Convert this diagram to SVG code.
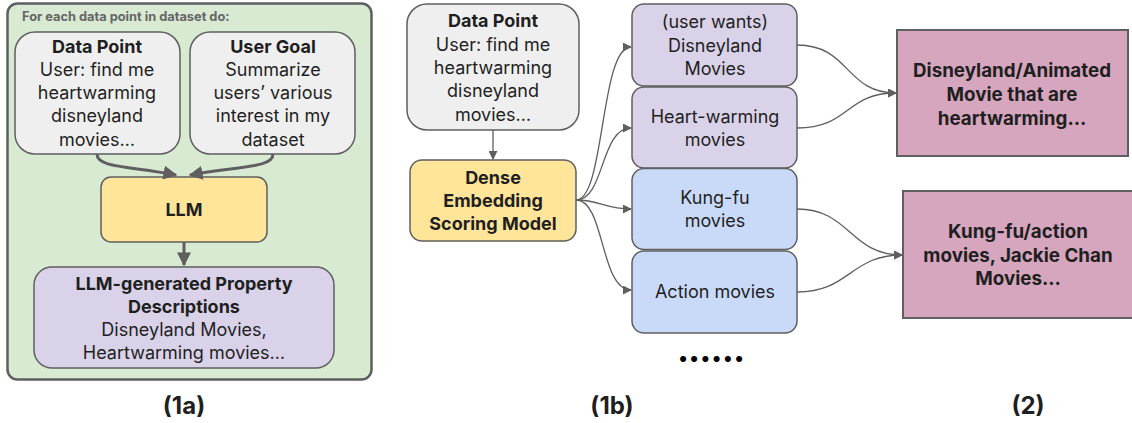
<svg xmlns="http://www.w3.org/2000/svg" width="1132" height="423" viewBox="0 0 1132 423">
<defs>
<style>
text{font-family:Inter,"Noto Sans","Liberation Sans",sans-serif;fill:#1f1f1f;text-anchor:middle}
.b{font-weight:700}
.t{font-size:18px}
.p{font-size:18.8px}
.lab{font-size:24px;font-weight:700}
.node{stroke:#5f5f5f;stroke-width:1.5}
.thick{fill:none;stroke:#5f5f5f;stroke-width:3}
.thin{fill:none;stroke:#5f5f5f;stroke-width:1.3}
</style>
<marker id="ah" viewBox="0 0 10 10" refX="9" refY="5" markerWidth="9" markerHeight="9" markerUnits="userSpaceOnUse" orient="auto"><path d="M0,0 L10,5 L0,10 z" fill="#5f5f5f"/></marker>
<marker id="ahb" viewBox="0 0 10 10" refX="9" refY="5" markerWidth="14" markerHeight="14" markerUnits="userSpaceOnUse" orient="auto"><path d="M0,0 L10,5 L0,10 z" fill="#5f5f5f"/></marker>
</defs>
<rect width="1132" height="423" fill="#ffffff"/>
<g id="frame1a">
<rect x="7.5" y="3.5" width="364" height="376" rx="10" fill="#d9ead3" stroke="#5f5f5f" stroke-width="2.5"/>
<text x="22" y="21" style="font-size:12.8px;font-weight:700;fill:#666;text-anchor:start">For each data point in dataset do:</text>
</g>
<g id="dp1">
<rect class="node" x="15" y="32" width="165" height="122" rx="20" fill="#efefef"/>
<text class="t b" x="97" y="53">Data Point</text>
<text class="t" x="97" y="76">User: find me</text>
<text class="t" x="97" y="99">heartwarming</text>
<text class="t" x="97" y="122">disneyland</text>
<text class="t" x="97" y="146">movies…</text>
</g>
<g id="goal">
<rect class="node" x="190" y="32" width="165" height="122" rx="20" fill="#efefef"/>
<text class="t b" x="273" y="53">User Goal</text>
<text class="t" x="273" y="76">Summarize</text>
<text class="t" x="273" y="99">users’ various</text>
<text class="t" x="273" y="122">interest in my</text>
<text class="t" x="273" y="146">dataset</text>
</g>
<g id="llm">
<rect class="node" x="101" y="177" width="166" height="65" rx="10" fill="#ffe599"/>
<text class="t b" x="184" y="216">LLM</text>
</g>
<g id="props">
<rect class="node" x="34" y="267" width="300" height="101" rx="18" fill="#d9d2e9"/>
<text class="t b" x="184" y="290">LLM-generated Property</text>
<text class="t b" x="184" y="313">Descriptions</text>
<text class="t" x="184" y="336">Disneyland Movies,</text>
<text class="t" x="184" y="359">Heartwarming movies…</text>
</g>
<g id="dp2">
<rect class="node" x="407" y="4" width="172" height="126" rx="20" fill="#efefef"/>
<text class="t b" x="493" y="27">Data Point</text>
<text class="t" x="493" y="51">User: find me</text>
<text class="t" x="493" y="74">heartwarming</text>
<text class="t" x="493" y="97">disneyland</text>
<text class="t" x="493" y="121">movies…</text>
</g>
<g id="dense">
<rect class="node" x="410" y="160" width="166" height="81" rx="12" fill="#ffe599"/>
<text class="t b" x="493" y="184">Dense</text>
<text class="t b" x="493" y="207">Embedding</text>
<text class="t b" x="493" y="230">Scoring Model</text>
</g>
<g id="c1">
<rect class="node" x="632" y="4" width="165" height="82" rx="12" fill="#d9d2e9"/>
<text class="t" x="715" y="28">(user wants)</text>
<text class="t" x="715" y="52">Disneyland</text>
<text class="t" x="715" y="75">Movies</text>
</g>
<g id="c2">
<rect class="node" x="632" y="87" width="165" height="81" rx="12" fill="#d9d2e9"/>
<text class="t" x="715" y="123">Heart-warming</text>
<text class="t" x="715" y="146">movies</text>
</g>
<g id="c3">
<rect class="node" x="632" y="168.5" width="165" height="81" rx="12" fill="#c9daf8"/>
<text class="t" x="715" y="204">Kung-fu</text>
<text class="t" x="715" y="227">movies</text>
</g>
<g id="c4">
<rect class="node" x="632" y="251" width="165" height="82" rx="12" fill="#c9daf8"/>
<text class="t" x="715" y="298">Action movies</text>
</g>
<g id="dots">
<text x="711" y="362" style="font-size:30px;font-weight:900;fill:#000">......</text>
</g>
<g id="g1">
<rect x="897" y="30" width="231" height="126" fill="#d5a6bd" stroke="#5f5f5f" stroke-width="2"/>
<text class="p b" x="1012" y="77">Disneyland/Animated</text>
<text class="p b" x="1012" y="101">Movie that are</text>
<text class="p b" x="1012" y="125">heartwarming…</text>
</g>
<g id="g2">
<rect x="903" y="191" width="231" height="127" fill="#d5a6bd" stroke="#5f5f5f" stroke-width="2"/>
<text class="p b" x="1018" y="238">Kung-fu/action</text>
<text class="p b" x="1018" y="262">movies, Jackie Chan</text>
<text class="p b" x="1018" y="285">Movies…</text>
</g>
<g id="labels">
<text class="lab" x="184" y="414">(1a)</text>
<text class="lab" x="612" y="414">(1b)</text>
<text class="lab" x="1028" y="414">(2)</text>
</g>
<g id="connectors">
<path class="thick" d="M97,154 C97,168 130,166 176,175" marker-end="url(#ahb)"/>
<path class="thick" d="M273,154 C273,168 240,166 190,175" marker-end="url(#ahb)"/>
<path class="thick" d="M184,242 L184,265" marker-end="url(#ahb)"/>
<path class="thin" d="M493,130 L493,159" marker-end="url(#ah)"/>
<path class="thin" d="M576,200 C605,200 600,47 631,47" marker-end="url(#ah)"/>
<path class="thin" d="M576,200 C605,200 600,128 631,128" marker-end="url(#ah)"/>
<path class="thin" d="M576,200 C600,200 605,209 631,209" marker-end="url(#ah)"/>
<path class="thin" d="M576,200 C605,200 600,290 631,290" marker-end="url(#ah)"/>
<path class="thin" d="M797,45 C850,45 845,93 896,93" marker-end="url(#ah)"/>
<path class="thin" d="M797,128 C850,128 845,93 896,93" marker-end="url(#ah)"/>
<path class="thin" d="M797,209 C850,209 850,255 902,255" marker-end="url(#ah)"/>
<path class="thin" d="M797,292 C850,292 850,255 902,255" marker-end="url(#ah)"/>
</g>
</svg>
